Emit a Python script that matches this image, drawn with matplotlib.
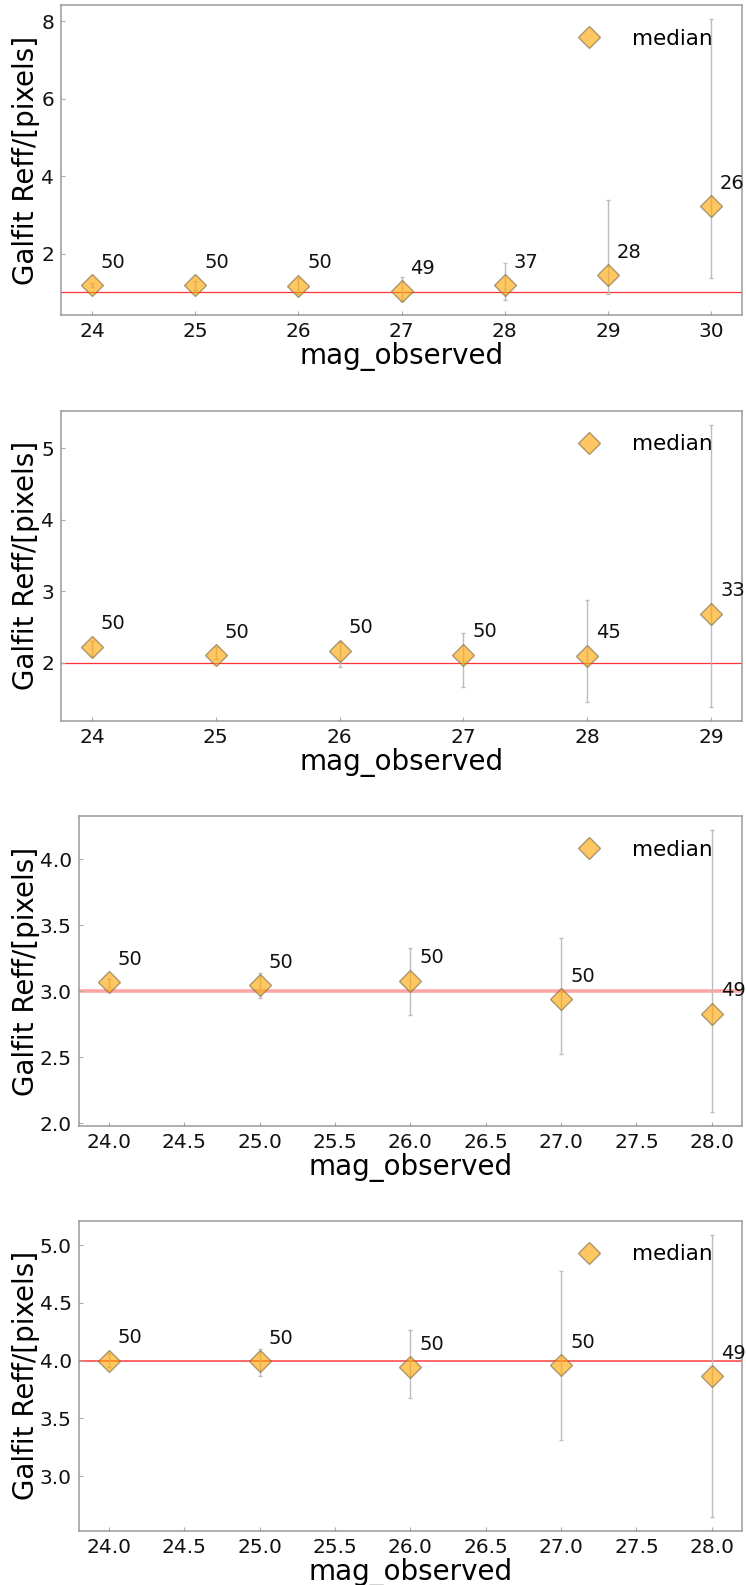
import matplotlib
matplotlib.use("Agg")
import matplotlib.pyplot as plt

plt.rcParams['font.family'] = ['DejaVu Sans']

# ---- data: median effective radius per observed magnitude bin ----
mag_1 = [24, 25, 26, 27, 28, 29, 30]
med_1 = [1.19, 1.19, 1.17, 1.03, 1.19, 1.44, 3.23]
lo_1 = [1.14, 1.07, 0.96, 0.78, 0.80, 0.96, 1.37]
hi_1 = [1.24, 1.30, 1.36, 1.41, 1.76, 3.39, 8.05]
n_1 = [50, 50, 50, 49, 37, 28, 26]
true_1 = 1.0

mag_2 = [24, 25, 26, 27, 28, 29]
med_2 = [2.23, 2.11, 2.17, 2.115, 2.10, 2.69]
lo_2 = [2.10, 2.06, 1.95, 1.67, 1.45, 1.39]
hi_2 = [2.31, 2.23, 2.29, 2.42, 2.88, 5.33]
n_2 = [50, 50, 50, 50, 45, 33]
true_2 = 2.0

mag_3 = [24, 25, 26, 27, 28]
med_3 = [3.068, 3.045, 3.08, 2.94, 2.83]
lo_3 = [3.03, 2.945, 2.82, 2.525, 2.085]
hi_3 = [3.095, 3.14, 3.33, 3.40, 4.22]
n_3 = [50, 50, 50, 50, 49]
true_3 = 3.0

mag_4 = [24, 25, 26, 27, 28]
med_4 = [4.00, 3.994, 3.946, 3.96, 3.865]
lo_4 = [3.946, 3.87, 3.68, 3.31, 2.65]
hi_4 = [4.066, 4.10, 4.27, 4.78, 5.09]
n_4 = [50, 50, 50, 50, 49]
true_4 = 4.0

panels = [
    (mag_1, med_1, lo_1, hi_1, n_1, true_1),
    (mag_2, med_2, lo_2, hi_2, n_2, true_2),
    (mag_3, med_3, lo_3, hi_3, n_3, true_3),
    (mag_4, med_4, lo_4, hi_4, n_4, true_4),
]

# axes rectangles (left, top, right, bottom) in pixels
W, H = 746, 1585
boxes = [
    (61, 5.3, 742, 315),
    (61, 410.7, 742, 720.7),
    (78.6, 816, 742, 1126),
    (78.6, 1220.7, 742, 1530.7),
]
ref_styles = [
    dict(color='red', lw=0.9, alpha=0.8),
    dict(color='red', lw=0.9, alpha=0.8),
    dict(color='red', lw=2.6, alpha=0.35),
    dict(color='red', lw=1.4, alpha=0.6),
]

fig = plt.figure(figsize=(W / 100, H / 100), dpi=100)

for (mag, med, lo, hi, n, true), (l, t, r, b), rs in zip(panels, boxes, ref_styles):
    ax = fig.add_axes([l / W, 1 - b / H, (r - l) / W, (b - t) / H])
    yerr = [[m - a for m, a in zip(med, lo)], [c - m for m, c in zip(med, hi)]]
    _, caps, _ = ax.errorbar(mag, med, yerr=yerr, fmt='none', ecolor='#bdbdbd',
                             elinewidth=1.0, capsize=1.6, zorder=2)
    for c in caps:
        c.set_color('#555555')
        c.set_markeredgewidth(1.0)
    ax.plot(mag, med, ls='none', marker='D', ms=11, mfc='orange',
            mec='#7a6a4a', mew=1.0, alpha=0.62, label='median', zorder=3)
    ax.axhline(true, zorder=1, **rs)
    for x, y, k in zip(mag, med, n):
        ax.annotate(str(k), (x, y), xytext=(6.5, 12.5), textcoords='offset points',
                    ha='left', va='baseline', fontsize=14, color='#111111',
                    annotation_clip=False)

    ax.set_xlabel('mag_observed', fontsize=20, labelpad=1)
    ax.set_ylabel('Galfit Reff/[pixels]', fontsize=20)
    ax.yaxis.set_label_coords(40 / W, 1 - ((t + b) / 2) / H, transform=fig.transFigure)
    ax.tick_params(direction='in', length=3, width=0.8, color='#aaaaaa',
                   labelsize=14.5, labelcolor='#111111', pad=5)
    for s in ax.spines.values():
        s.set_color('#9a9a9a')
        s.set_linewidth(1.1)
    ax.legend(loc='upper right', bbox_to_anchor=(1 - 21 / (r - l), 1 - 15 / (b - t)),
              borderaxespad=0, frameon=False, fontsize=15.5,
              handletextpad=1.0, handlelength=2.0)

fig.savefig('out.png', dpi=100)
